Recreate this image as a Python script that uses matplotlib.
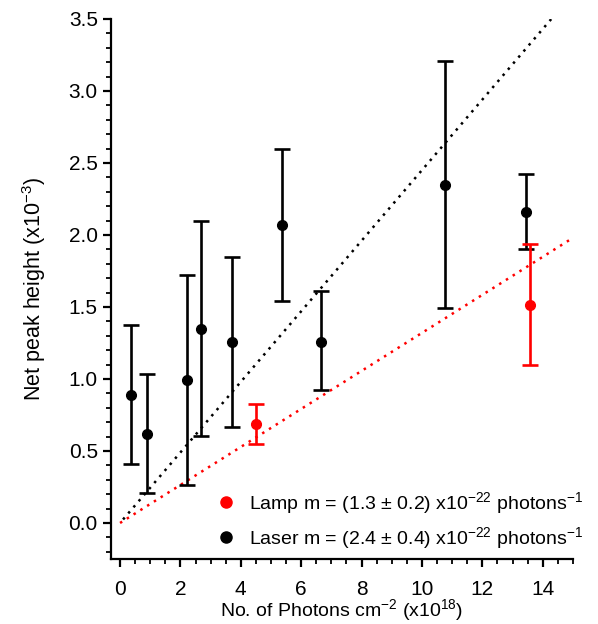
import matplotlib
matplotlib.use("Agg")
import numpy as np
import matplotlib.pyplot as plt
from matplotlib.lines import Line2D
from matplotlib.ticker import MultipleLocator, FormatStrFormatter

plt.rcParams["font.family"] = ["Liberation Sans", "DejaVu Sans"]
plt.rcParams["mathtext.default"] = "regular"

# Laser data (x in 1e18 photons cm^-2, y in 1e-3)
laser_x = [0.36, 0.88, 2.23, 2.67, 3.71, 5.37, 6.67, 10.75, 13.44]
laser_y = [0.89, 0.62, 0.99, 1.345, 1.257, 2.067, 1.26, 2.35, 2.162]
laser_hi = [1.372, 1.037, 1.72, 2.095, 1.847, 2.595, 1.61, 3.21, 2.42]
laser_lo = [0.408, 0.208, 0.262, 0.604, 0.669, 1.54, 0.92, 1.49, 1.905]

# Lamp data
lamp_x = [4.51, 13.59]
lamp_y = [0.69, 1.517]
lamp_hi = [0.829, 1.94]
lamp_lo = [0.547, 1.095]

# Linear fits through origin
laser_slope = 0.245
laser_fit_x = [0.1, 14.3]
lamp_slope = 0.132
lamp_fit_x = [0.0, 14.9]

fig = plt.figure(figsize=(5.98, 6.24), dpi=100)
ax = fig.add_axes([0.1856, 0.1042, 0.7724, 0.8654])

lx = np.array(laser_fit_x)
ax.plot(lx, laser_slope * lx, color="black", ls=(0, (1, 2.2)), lw=1.8)
mx = np.array(lamp_fit_x)
ax.plot(mx, lamp_slope * mx, color="red", ls=(0, (1, 2.2)), lw=1.8)

def draw(xs, ys, hi, lo, color):
    ys = np.array(ys)
    yerr = [ys - np.array(lo), np.array(hi) - ys]
    ax.errorbar(xs, ys, yerr=yerr, fmt="o", color=color, ms=7,
                elinewidth=1.9, capsize=5.5, capthick=1.9, zorder=3)

draw(laser_x, laser_y, laser_hi, laser_lo, "black")
draw(lamp_x, lamp_y, lamp_hi, lamp_lo, "red")

ax.set_xlim(-0.3, 15)
ax.set_ylim(-0.25, 3.5)
ax.xaxis.set_major_locator(MultipleLocator(2))
ax.xaxis.set_minor_locator(MultipleLocator(0.5))
ax.yaxis.set_major_locator(MultipleLocator(0.5))
ax.yaxis.set_minor_locator(MultipleLocator(0.1))
ax.yaxis.set_major_formatter(FormatStrFormatter("%.1f"))

for s in ["top", "right"]:
    ax.spines[s].set_visible(False)
for s in ["left", "bottom"]:
    ax.spines[s].set_linewidth(1.6)
ax.tick_params(which="major", direction="out", length=6, width=1.6, labelsize=15)
ax.tick_params(axis="x", which="major", pad=9)
ax.tick_params(which="minor", direction="out", length=3.5, width=1.3)

ax.set_xlabel("No. of Photons cm$^{-2}$ (x10$^{18}$)", fontsize=14, labelpad=-1)
ax.set_ylabel("Net peak height (x10$^{-3}$)", fontsize=15.5, labelpad=15)

handles = [
    Line2D([], [], marker="o", ls="none", color="red", ms=8),
    Line2D([], [], marker="o", ls="none", color="black", ms=8),
]
labels = [
    "Lamp m = (1.3 $\\pm$ 0.2) x10$^{-22}$ photons$^{-1}$",
    "Laser m = (2.4 $\\pm$ 0.4) x10$^{-22}$ photons$^{-1}$",
]
ax.legend(handles, labels, loc="lower right", bbox_to_anchor=(1.06, -0.018),
          frameon=False, fontsize=14, handletextpad=0.7, labelspacing=0.5,
          handlelength=1.0)

fig.savefig("out.png", dpi=100)
